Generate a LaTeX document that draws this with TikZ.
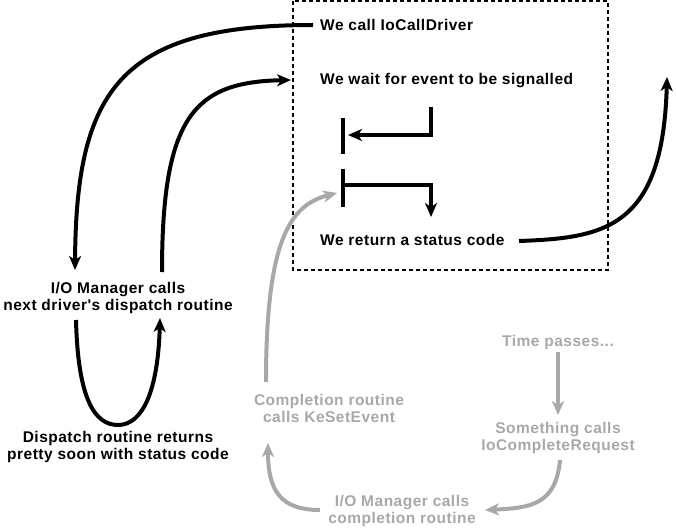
\documentclass[tikz,border=0pt]{standalone}
\usepackage{fontspec}
\newfontfamily\lsans{Liberation Sans}[LetterSpace=3.2]
\usetikzlibrary{arrows.meta}
\definecolor{lg}{RGB}{168,168,168}
\begin{document}
\begin{tikzpicture}[x=1pt,y=-1pt,
  txt/.style={font=\lsans\bfseries\fontsize{15.5}{17}\selectfont, inner sep=0pt, align=center},
  tip/.style={-{Stealth[length=14pt,width=12pt,inset=4pt]}},
  blk/.style={line width=4pt, tip},
  gry/.style={line width=4pt, tip, draw=lg},
  bar/.style={line width=4pt}]
\useasboundingbox (0,0) rectangle (676,529);
% dashed box
\draw[line width=2pt, dash pattern=on 4pt off 3pt] (293,1) rectangle (608,270);
% texts
\node[txt,anchor=west] (call) at (320,25) {We call IoCallDriver};
\node[txt,anchor=west] (wait) at (320,81) {We wait for event to be signalled};
\node[txt,anchor=west] (ret) at (320,240) {We return a status code};
\node[txt] (iom) at (118,298) {I/O Manager calls\\next driver's dispatch routine};
\node[txt] (disp) at (118,447) {Dispatch routine returns\\pretty soon with status code};
\node[txt,text=lg] (comp) at (329,408) {Completion routine\\calls KeSetEvent};
\node[txt,text=lg] (time) at (558,342) {Time passes...};
\node[txt,text=lg] (some) at (558,438) {Something calls\\IoCompleteRequest};
\node[txt,text=lg] (iocomp) at (402,511) {I/O Manager calls\\completion routine};
% coordinates
\coordinate (a1) at ([xshift=-7pt]call.west);
\coordinate (a1e) at (75,270);
\coordinate (a2s) at (162,272);
\coordinate (a2e) at (291,80);
\coordinate (l1) at (76,320);
\coordinate (lb) at (118,425);
\coordinate (l2) at (160,318);
\coordinate (g1s) at (266,382);
\coordinate (g1e) at (337,193);
\coordinate (t1) at (558,352);
\coordinate (t2) at (558,415);
\coordinate (g3s) at (560,460);
\coordinate (g3e) at (485,510);
\coordinate (g4s) at (320,510);
\coordinate (g4e) at (268,443);
\coordinate (r1) at (519,241);
\coordinate (r2) at (667,77);
\coordinate (b1t) at (343,118);
\coordinate (b1b) at (343,154);
\coordinate (b2t) at (343,169);
\coordinate (b2b) at (343,207);
\coordinate (w1) at (431,107);
\coordinate (w2) at (431,135);
\coordinate (w3) at (348,135);
\coordinate (s1) at (343,185);
\coordinate (s2) at (431,185);
\coordinate (s3) at (431,217);
% black connectors
\draw[blk] (a1) .. controls (120,25) and (76,90) .. (a1e);
\draw[blk] (a2s) .. controls (162,115) and (195,82) .. (a2e);
\draw[blk] (l1) .. controls (78,400) and (95,425) .. (lb) .. controls (143,425) and (158,390) .. (l2);
\draw[blk] (r1) .. controls (605,238) and (663,228) .. (r2);
\draw[bar] (b1t) -- (b1b);
\draw[bar] (b2t) -- (b2b);
\draw[blk] (w1) -- (w2) -- (w3);
\draw[blk] (s1) -- (s2) -- (s3);
% gray connectors
\draw[gry] (g1s) .. controls (266,240) and (290,205) .. (g1e);
\draw[gry] (t1) -- (t2);
\draw[gry] (g3s) .. controls (556,505) and (530,508) .. (g3e);
\draw[gry] (g4s) .. controls (280,510) and (268,490) .. (g4e);
\end{tikzpicture}
\end{document}
